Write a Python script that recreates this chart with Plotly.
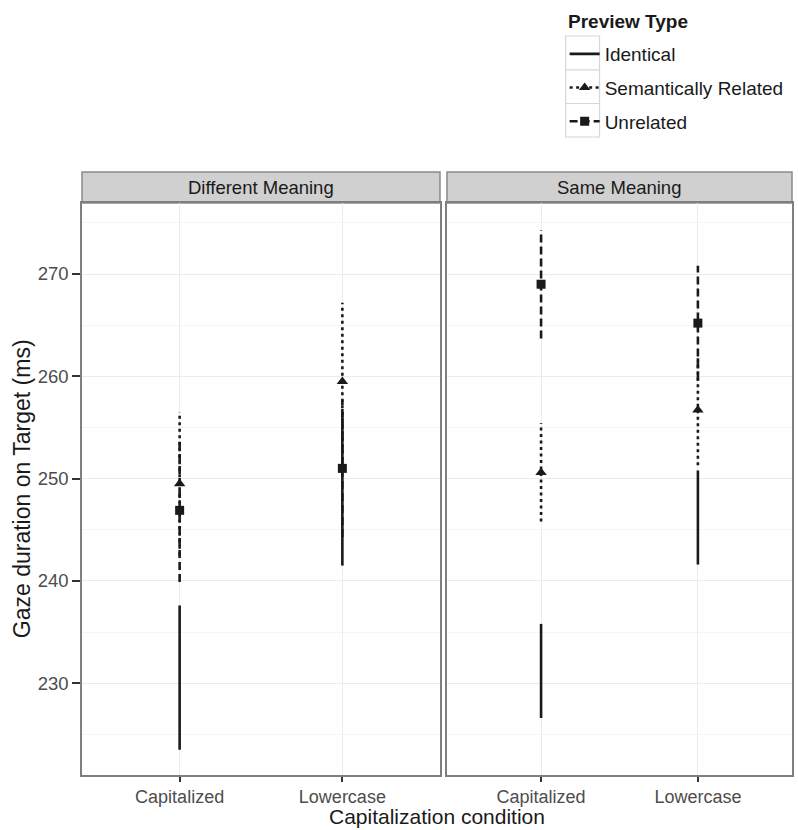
import plotly.graph_objects as go

# ---------------- data ----------------
conditions = ["Capitalized", "Lowercase"]
panels = ["Different Meaning", "Same Meaning"]
preview_types = ["Identical", "Semantically Related", "Unrelated"]

# mean gaze duration per panel (rows) and condition (cols), with CI half-widths
identical_mean = [[230.55, 249.0], [231.2, 246.2]]
identical_ci = [[7.05, 7.5], [4.6, 4.6]]
semantic_mean = [[249.5, 259.5], [250.6, 256.7]]
semantic_ci = [[7.0, 7.7], [4.8, 5.4]]
unrelated_mean = [[246.9, 251.0], [269.0, 265.2]]
unrelated_ci = [[7.0, 6.7], [5.3, 5.6]]

y_ticks = [230, 240, 250, 260, 270]

# ---------------- styles ----------------
styles = {
    "Identical": dict(dash="solid", symbol=None, size=0),
    "Semantically Related": dict(dash="3px,3.5px", symbol="triangle-up", size=10),
    "Unrelated": dict(dash="8px,4px", symbol="square", size=9),
}
series = {
    "Identical": (identical_mean, identical_ci),
    "Semantically Related": (semantic_mean, semantic_ci),
    "Unrelated": (unrelated_mean, unrelated_ci),
}
INK = "#1a1a1a"
FONT = "Liberation Sans, Arial, sans-serif"

fig = go.Figure()

for pi, panel in enumerate(panels):
    xa = "x" if pi == 0 else "x2"
    ya = "y" if pi == 0 else "y2"
    for name in preview_types:
        means, cis = series[name]
        st = styles[name]
        xs, ys = [], []
        for ci_idx, cond in enumerate(conditions):
            m = means[pi][ci_idx]
            h = cis[pi][ci_idx]
            xs += [cond, cond, None]
            ys += [m - h, m + h, None]
        fig.add_trace(go.Scatter(
            x=xs, y=ys, mode="lines", xaxis=xa, yaxis=ya,
            line=dict(color=INK, width=2.6, dash=st["dash"]),
            showlegend=False, hoverinfo="skip", legendgroup=name,
        ))
        if st["symbol"]:
            fig.add_trace(go.Scatter(
                x=conditions, y=means[pi], mode="markers", xaxis=xa, yaxis=ya,
                marker=dict(color=INK, symbol=st["symbol"], size=st["size"]),
                showlegend=False, legendgroup=name,
            ))

# legend entries
for name in preview_types:
    st = styles[name]
    fig.add_trace(go.Scatter(
        x=[None], y=[None], name=name, legendgroup=name,
        mode="lines+markers" if st["symbol"] else "lines",
        line=dict(color=INK, width=2.6, dash=st["dash"]),
        marker=dict(color=INK, symbol=st["symbol"] or "circle", size=st["size"] or 1),
        showlegend=True,
    ))

W, H = 798, 830
ml, mr, mt, mb = 82, 4, 203, 55
pw = W - ml - mr
ph = H - mt - mb
gap_px = 7
left_end = 359 / pw
right_start = (359 + gap_px) / pw


def px_x(p):
    return (p - ml) / pw


def px_y(p):
    return 1 + (mt - p) / ph


yr = [221.03, 276.94]
axis_common = dict(
    showline=True, mirror=True, linecolor="#7f7f7f", linewidth=1.5,
    showgrid=True, gridcolor="#ebebeb", gridwidth=1.3, zeroline=False,
)
xtick_style = dict(ticks="outside", ticklen=5, tickwidth=1.5, tickcolor="#333333",
                   tickfont=dict(size=18, color="#4d4d4d"))
fig.update_layout(
    width=W, height=H,
    margin=dict(l=ml, r=mr, t=mt, b=mb),
    paper_bgcolor="white", plot_bgcolor="white",
    font=dict(family=FONT, color=INK),
    xaxis=dict(domain=[0, left_end], type="category", categoryorder="array",
               categoryarray=conditions, range=[-0.6, 1.6], anchor="y",
               **xtick_style, **axis_common),
    xaxis2=dict(domain=[right_start, 1], type="category", categoryorder="array",
                categoryarray=conditions, range=[-0.6, 1.6], anchor="y2",
                **xtick_style, **axis_common),
    yaxis=dict(range=yr, tickvals=y_ticks, ticks="outside", ticklen=8, tickwidth=1.5,
               tickcolor="#333333", tickfont=dict(size=18.5, color="#4d4d4d"),
               minor=dict(dtick=5, tick0=0, showgrid=True, gridcolor="#f5f5f5", ticks=""),
               anchor="x", **axis_common),
    yaxis2=dict(range=yr, tickvals=y_ticks, showticklabels=False, ticks="",
                minor=dict(dtick=5, tick0=0, showgrid=True, gridcolor="#f5f5f5", ticks=""),
                anchor="x2", **axis_common),
    legend=dict(
        x=px_x(566), xanchor="left",
        y=px_y(35), yanchor="top",
        font=dict(size=19, color=INK, family=FONT),
        bgcolor="rgba(0,0,0,0)", traceorder="grouped", tracegroupgap=6,
        itemwidth=30,
    ),
)

# legend title and key boxes
fig.add_annotation(text="<b>Preview Type</b>", xref="paper", yref="paper",
                   x=px_x(567), y=px_y(21.7), xanchor="left", yanchor="middle",
                   showarrow=False, font=dict(size=19, color=INK))
key_edges = [36, 70, 103.5, 137]
for k in range(3):
    fig.add_shape(type="rect", xref="paper", yref="paper",
                  x0=px_x(567), x1=px_x(601),
                  y0=px_y(key_edges[k + 1]), y1=px_y(key_edges[k]),
                  line=dict(color="#d6d6d6", width=1.2), fillcolor="white", layer="below")

# facet strips
strip_h = 31 / ph
for pi, panel in enumerate(panels):
    x0, x1 = (0, left_end) if pi == 0 else (right_start, 1)
    fig.add_shape(type="rect", xref="paper", yref="paper", x0=x0, x1=x1,
                  y0=1, y1=1 + strip_h, fillcolor="#d0d0d0",
                  line=dict(color="#8a8a8a", width=1.5), layer="below")
    fig.add_annotation(text=panel, xref="paper", yref="paper", x=(x0 + x1) / 2,
                       y=1 + strip_h / 2, showarrow=False,
                       font=dict(size=18.5, color=INK), xanchor="center", yanchor="middle")

# axis titles
fig.add_annotation(text="Capitalization condition", xref="paper", yref="paper",
                   x=0.5, y=px_y(829), showarrow=False, borderpad=0,
                   font=dict(size=21, color=INK), xanchor="center", yanchor="bottom")
fig.add_annotation(text="Gaze duration on Target (ms)", xref="paper", yref="paper",
                   x=px_x(22), y=0.5, textangle=-90, showarrow=False,
                   font=dict(size=23, color=INK), xanchor="center", yanchor="middle")

fig.write_html("out.html", config={"displayModeBar": False},
               post_script="document.body.style.margin='0px';")
